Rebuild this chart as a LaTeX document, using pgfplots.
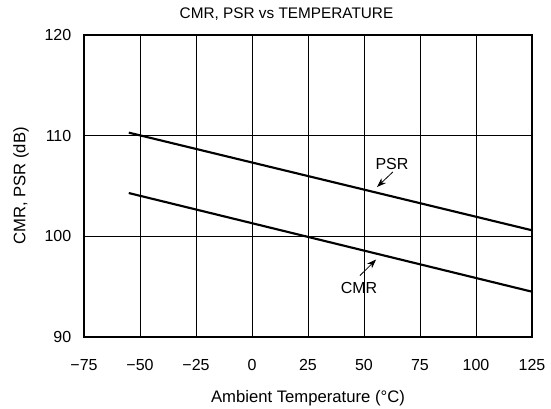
\documentclass[border=0pt]{standalone}
\usepackage{pgfplots}
\pgfplotsset{compat=1.18}
\usepackage{fontspec}
\setmainfont{Liberation Sans}
\usetikzlibrary{arrows.meta}

\begin{document}
\begin{tikzpicture}
\begin{axis}[
    scale only axis,
    width=336pt, height=226.5pt,
    xmin=-75, xmax=125, ymin=90, ymax=120,
    xtick={-75,-50,...,125},
    ytick={90,100,110,120},
    xticklabels={−75,−50,−25,0,25,50,75,100,125},
    grid=major,
    major grid style={black, line width=0.6pt},
    axis line style={black, line width=1.5pt},
    major tick length=0pt,
    tick label style={font=\fontsize{12}{14}\selectfont},
    /pgf/number format/assume math mode=true,
    xticklabel style={yshift=-13pt},
    yticklabel style={xshift=-6pt},
    xlabel={Ambient Temperature (°C)},
    ylabel={CMR, PSR (dB)},
    label style={font=\fontsize{12.5}{14}\selectfont},
    xlabel style={yshift=-8pt},
    ylabel style={yshift=5pt},
    clip=false,
]
\addplot[black, line width=1.6pt] coordinates {(-55,110.3) (125,100.6)};
\addplot[black, line width=1.6pt] coordinates {(-55,104.3) (125,94.5)};

\node[font=\fontsize{12}{14}\selectfont] at (axis cs:62.5,107.2) {PSR};
\draw[-{Stealth[length=7pt,width=5pt]}, line width=0.6pt] (axis cs:62.9,106.4) -- (axis cs:55.8,104.9);
\node[font=\fontsize{12}{14}\selectfont] at (axis cs:47.8,94.9) {CMR};
\draw[-{Stealth[length=7pt,width=5pt]}, line width=0.6pt] (axis cs:48.2,96.1) -- (axis cs:55.4,97.7);

\node[font=\fontsize{11.5}{13}\selectfont, anchor=base] at (axis cs:15.4,121.6) {CMR, PSR vs TEMPERATURE};
\end{axis}
\pgfresetboundingbox
\path (-63pt,-53.25pt) rectangle (350.25pt,252.75pt);
\end{tikzpicture}
\end{document}
